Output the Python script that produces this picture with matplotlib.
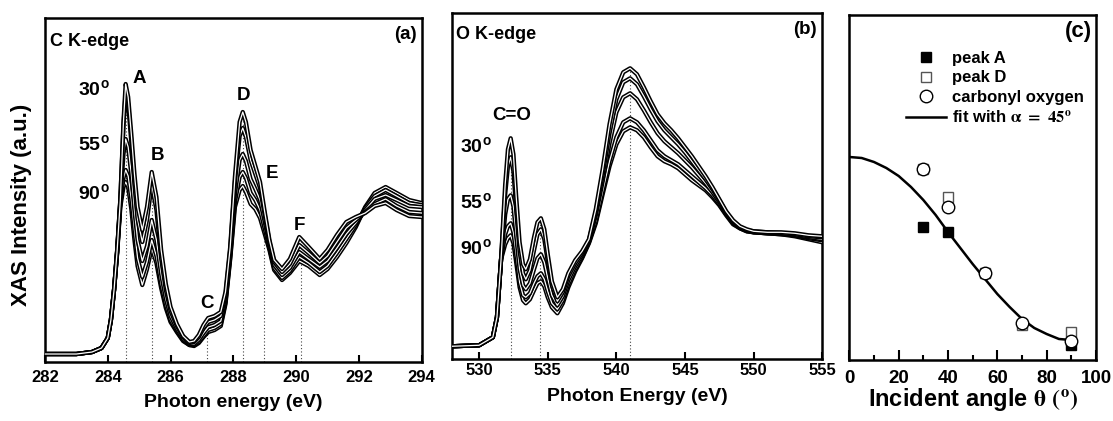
import numpy as np
import matplotlib.pyplot as plt

plt.rcParams['font.family'] = ['Liberation Sans', 'DejaVu Sans']
plt.rcParams['font.weight'] = 'bold'
plt.rcParams['mathtext.fontset'] = 'stix'

# ---- (a) C K-edge spectra (arbitrary units, 5 incidence angles) ----
e_c = [282.0, 283.0, 283.5, 283.8, 284.0, 284.1, 284.2, 284.3, 284.4, 284.5, 284.57, 284.65,
       284.75, 284.85, 284.95, 285.1, 285.25, 285.4, 285.55, 285.7, 285.85, 286.0, 286.2,
       286.4, 286.6, 286.75, 286.9, 287.05, 287.2, 287.4, 287.6, 287.75, 287.9, 288.05,
       288.2, 288.3, 288.4, 288.55, 288.7, 288.85, 289.0, 289.15, 289.3, 289.55, 289.8,
       290.1, 290.4, 290.75, 291.0, 291.3, 291.6, 291.9, 292.2, 292.5, 292.85, 293.2,
       293.6, 294.0]
c_30 = [8, 8, 10, 14, 24, 42, 72, 112, 162, 240, 278, 265, 228, 188, 155, 132, 155, 190, 165,
        112, 78, 55, 38, 26, 20, 21, 27, 37, 44, 46, 50, 70, 115, 185, 240, 250, 240, 212,
        196, 180, 150, 122, 102, 93, 103, 125, 115, 103, 112, 127, 140, 145, 149, 156, 159,
        152, 146, 145]
c_40 = [8, 8, 10, 14, 24, 42, 72, 112, 162, 236, 270, 258, 220, 178, 143, 120, 142, 178, 152,
        104, 72, 51, 36, 25, 19, 20, 25, 34, 40, 42, 46, 66, 112, 180, 226, 234, 225, 202,
        188, 174, 147, 120, 100, 90, 98, 117, 109, 99, 106, 120, 134, 142, 150, 158, 163,
        156, 150, 149]
c_55 = [8, 8, 10, 14, 24, 42, 72, 111, 160, 208, 223, 215, 188, 152, 122, 101, 116, 142, 122,
        88, 63, 46, 33, 23, 18, 18, 22, 29, 35, 37, 41, 62, 108, 168, 202, 208, 201, 183,
        173, 162, 140, 117, 97, 87, 94, 110, 103, 95, 101, 114, 128, 139, 152, 163, 167,
        162, 156, 155]
c_70 = [8, 8, 10, 14, 24, 42, 72, 110, 158, 184, 192, 186, 163, 132, 104, 85, 100, 122, 106,
        78, 57, 42, 31, 22, 17, 17, 20, 26, 32, 34, 38, 60, 105, 160, 185, 190, 184, 169,
        162, 152, 133, 114, 94, 84, 91, 105, 99, 90, 96, 109, 123, 137, 154, 166, 172,
        166, 159, 157]
c_90 = [8, 8, 10, 14, 24, 42, 72, 109, 155, 175, 180, 175, 153, 122, 96, 77, 93, 114, 99,
        74, 54, 40, 30, 21, 17, 16, 19, 25, 30, 32, 36, 58, 103, 155, 172, 176, 170, 158,
        153, 144, 128, 112, 92, 82, 89, 101, 96, 87, 93, 105, 119, 135, 155, 169, 175,
        169, 162, 159]
peaks_c = [284.57, 285.42, 287.15, 288.3, 288.98, 290.15]
peak_names_c = ['A', 'B', 'C', 'D', 'E', 'F']

# ---- (b) O K-edge spectra ----
e_o = [528, 530, 531, 531.3, 531.6, 531.9, 532.1, 532.3, 532.5, 532.7, 532.95, 533.2, 533.4,
       533.7, 534.0, 534.25, 534.5, 534.75, 535.0, 535.3, 535.7, 536.1, 536.5, 537.0, 537.5,
       538.0, 538.5, 539.0, 539.5, 540.0, 540.5, 541.0, 541.5, 542.0, 542.5, 543.0, 543.5,
       544.0, 544.5, 545.0, 545.5, 546.0, 546.5, 547.0, 547.5, 548.0, 548.5, 549.0, 549.5,
       550.0, 551.0, 552.0, 553.0, 554.0, 555.0]
o_30 = [13, 14, 22, 42, 100, 175, 210, 221, 205, 163, 117, 95, 90, 100, 122, 137, 141, 130,
        105, 78, 62, 70, 86, 99, 108, 120, 150, 190, 235, 270, 287, 291, 285, 272, 258, 245,
        236, 229, 221, 212, 203, 193, 183, 172, 160, 148, 139, 133, 130, 128, 127, 127, 126,
        124, 123]
o_40 = [13, 14, 22, 42, 100, 165, 193, 202, 188, 150, 108, 86, 80, 89, 109, 125, 130, 120,
        98, 74, 58, 67, 83, 96, 106, 119, 147, 184, 226, 260, 277, 281, 275, 263, 250, 238,
        229, 222, 215, 207, 198, 189, 180, 170, 159, 147, 138, 132, 129, 128, 127, 126, 125,
        123, 122]
o_55 = [13, 14, 22, 42, 100, 145, 160, 164, 153, 124, 90, 74, 70, 76, 90, 101, 105, 97,
        81, 64, 54, 63, 79, 93, 104, 118, 144, 178, 216, 247, 262, 266, 260, 249, 237, 226,
        218, 212, 206, 199, 192, 184, 176, 167, 157, 146, 137, 132, 129, 127, 126, 126, 124,
        122, 120]
o_70 = [13, 14, 22, 42, 100, 125, 133, 136, 127, 105, 77, 64, 62, 66, 76, 83, 86, 80,
        68, 56, 50, 59, 75, 90, 102, 117, 138, 168, 198, 222, 237, 241, 237, 229, 219, 209,
        203, 199, 195, 189, 183, 177, 171, 164, 155, 145, 136, 131, 128, 127, 126, 125, 124,
        121, 119]
o_90 = [13, 14, 22, 42, 100, 115, 121, 124, 116, 97, 72, 59, 56, 60, 69, 76, 78, 73,
        62, 52, 46, 56, 72, 88, 101, 116, 136, 165, 193, 215, 228, 232, 229, 222, 212, 203,
        198, 195, 191, 185, 179, 174, 169, 162, 154, 144, 135, 131, 128, 127, 126, 125, 123,
        120, 117]
peaks_o = [532.35, 534.45, 541.0]

# ---- (c) angular dependence ----
theta_a = [30, 40, 90]
peak_a = [133, 128, 15]
theta_d = [30, 40, 55, 70, 90]
peak_d = [191, 163, 87, 35, 28]
theta_o = [30, 40, 55, 70, 90]
carbonyl = [191, 153, 87, 37, 19]
theta_fit = [0, 5, 10, 15, 20, 25, 30, 35, 40, 45, 50, 55, 60, 65, 70, 75, 80, 85, 90]
fit_45 = [203, 202, 198, 192, 184, 173, 160, 145, 128, 112, 96, 81, 66, 53, 41, 32, 26, 21, 20]

fig = plt.figure(figsize=(11.13, 4.21), dpi=100)
ax_a = fig.add_axes([0.0404, 0.1401, 0.3385, 0.8171])
ax_b = fig.add_axes([0.4058, 0.1466, 0.3330, 0.8218])
ax_c = fig.add_axes([0.7631, 0.1449, 0.2216, 0.8195])


def draw_spectra(ax, x, curves):
    for c in curves:
        ax.plot(x, c, color='black', lw=3.1, solid_joinstyle='round', solid_capstyle='round', zorder=3)
        ax.plot(x, c, color='white', lw=0.9, solid_joinstyle='round', zorder=3)


def style_axes(ax, pad):
    for s in ax.spines.values():
        s.set_linewidth(1.8)
    ax.set_yticks([])
    ax.tick_params(axis='x', direction='in', length=5, width=1.5, pad=pad, labelsize=12)


# (a)
curves_c = [c_90, c_70, c_55, c_40, c_30]
draw_spectra(ax_a, e_c, curves_c)
for e in peaks_c:
    top = max(np.interp(e, e_c, c) for c in curves_c)
    ax_a.plot([e, e], [0, top], ls=(0, (1, 2)), color='#444444', lw=0.8, zorder=1)
ax_a.set_xlim(282, 294)
ax_a.set_ylim(0, 344)
ax_a.set_xticks([282, 284, 286, 288, 290, 292, 294])
style_axes(ax_a, 6)
ax_a.set_xlabel('Photon energy (eV)', fontsize=14, fontweight='bold')
ax_a.xaxis.set_label_coords(0.5, -0.093)
ax_a.set_ylabel('XAS Intensity (a.u.)', fontsize=16, fontweight='bold')
ax_a.yaxis.set_label_coords(-0.034, 0.456)
ax_a.text(0.013, 0.933, 'C K-edge', transform=ax_a.transAxes, fontsize=13,
          fontweight='bold', va='center', ha='left')
ax_a.text(0.988, 0.952, '(a)', transform=ax_a.transAxes, fontsize=13.5,
          fontweight='bold', va='center', ha='right')
label_pos_c = [(284.99, 284), (285.6, 207), (287.16, 59), (288.31, 267), (289.23, 189), (290.12, 137)]
for name, (x, y) in zip(peak_names_c, label_pos_c):
    ax_a.text(x, y, name, fontsize=13.5, fontweight='bold', ha='center', va='center')
for ang, y in zip(['30', '55', '90'], [272, 217, 168]):
    ax_a.text(283.56, y, ang + r'$^\mathregular{o}$', fontsize=14, fontweight='bold',
              ha='center', va='center')

# (b)
curves_o = [o_90, o_70, o_55, o_40, o_30]
draw_spectra(ax_b, e_o, curves_o)
for e in peaks_o:
    top = max(np.interp(e, e_o, c) for c in curves_o)
    ax_b.plot([e, e], [0, top], ls=(0, (1, 2)), color='#444444', lw=0.8, zorder=1)
ax_b.set_xlim(528, 555)
ax_b.set_ylim(0, 346)
ax_b.set_xticks([530, 535, 540, 545, 550, 555])
style_axes(ax_b, 2.5)
ax_b.set_xlabel('Photon Energy (eV)', fontsize=14, fontweight='bold')
ax_b.xaxis.set_label_coords(0.5, -0.083)
ax_b.text(0.012, 0.94, 'O K-edge', transform=ax_b.transAxes, fontsize=13,
          fontweight='bold', va='center', ha='left')
ax_b.text(0.986, 0.952, '(b)', transform=ax_b.transAxes, fontsize=13.5,
          fontweight='bold', va='center', ha='right')
ax_b.text(532.37, 244, 'C=O', fontsize=13.5, fontweight='bold', ha='center', va='center')
for ang, y in zip(['30', '55', '90'], [212, 156, 110]):
    ax_b.text(529.76, y, ang + r'$^\mathregular{o}$', fontsize=14, fontweight='bold',
              ha='center', va='center')

# (c)
ax_c.plot(theta_fit, fit_45, color='black', lw=1.8, zorder=2,
          label=r'fit with $\mathrm{\alpha\ =\ 45^o}$')
ax_c.plot(theta_a, peak_a, ls='none', marker='s', ms=7, mfc='black', mec='black', zorder=3, label='peak A')
ax_c.plot(theta_d, peak_d, ls='none', marker='s', ms=7.5, mfc='white', mec='#555555', mew=1.0, zorder=4, label='peak D')
ax_c.plot(theta_o, carbonyl, ls='none', marker='o', ms=9, mfc='white', mec='black', mew=1.0, zorder=5, label='carbonyl oxygen')
ax_c.set_xlim(0, 100)
ax_c.set_ylim(0, 345)
ax_c.set_xticks([0, 20, 40, 60, 80, 100])
ax_c.set_xticks([10, 30, 50, 70, 90], minor=True)
for s in ax_c.spines.values():
    s.set_linewidth(1.8)
ax_c.set_yticks([])
ax_c.tick_params(axis='x', which='major', direction='in', length=7, width=1.5, pad=7, labelsize=13.5)
ax_c.tick_params(axis='x', which='minor', direction='in', length=3.5, width=1.5)
ax_c.set_xlabel(r'Incident angle $\mathrm{\theta}$ $\mathrm{(^o)}$', fontsize=17, fontweight='bold')
ax_c.xaxis.set_label_coords(0.5, -0.075)
ax_c.text(0.984, 0.951, '(c)', transform=ax_c.transAxes, fontsize=16,
          fontweight='bold', va='center', ha='right')
h, l = ax_c.get_legend_handles_labels()
order = [1, 2, 3, 0]
ax_c.legend([h[i] for i in order], [l[i] for i in order], loc='upper left',
            bbox_to_anchor=(0.23, 0.895), frameon=False, borderpad=0, borderaxespad=0,
            handlelength=2.4, handletextpad=0.35, labelspacing=0.25,
            prop={'weight': 'bold', 'size': 12})

fig.savefig('out.png', dpi=100)
